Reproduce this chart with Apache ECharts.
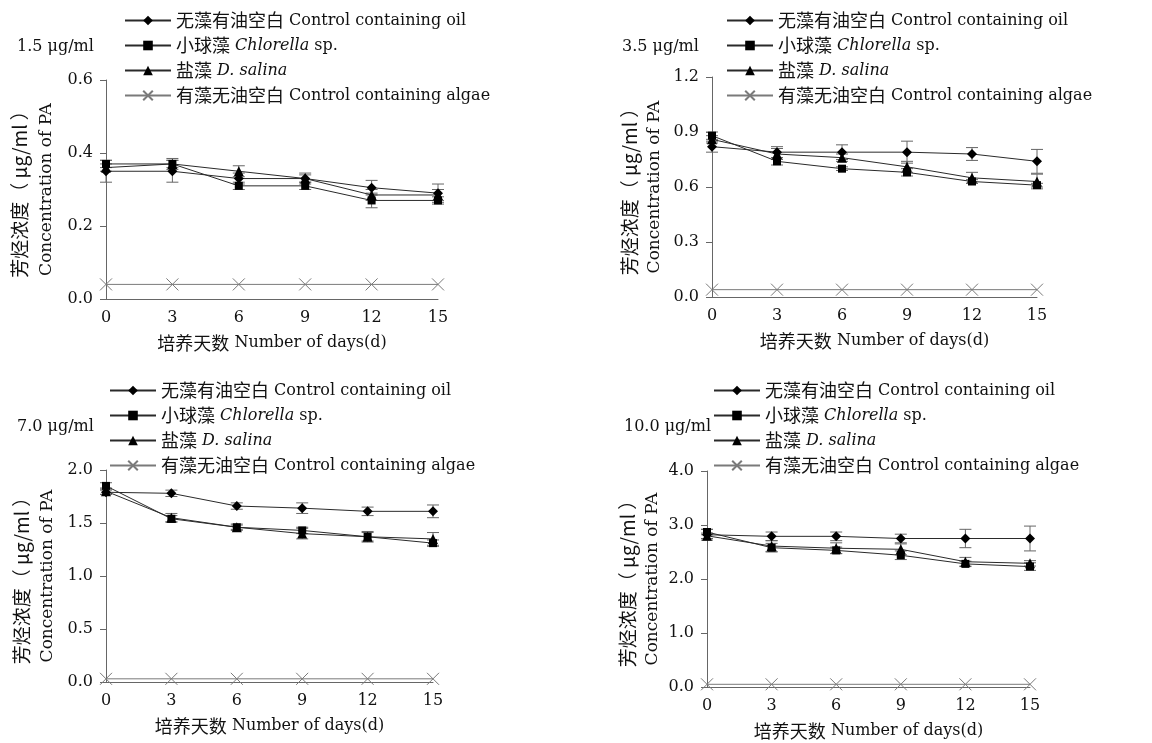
<!DOCTYPE html>
<html><head><meta charset="utf-8">
<script src="https://cdn.jsdelivr.net/npm/echarts@6/dist/echarts.min.js"></script>
<style>html,body{margin:0;padding:0;background:#fff}#c{width:1152px;height:743px}</style>
</head><body><div id="c"></div>
<script>
const days = [0, 3, 6, 9, 12, 15];
const seriesNames = ['无藻有油空白 Control containing oil', '小球藻 Chlorella sp.', '盐藻 D. salina', '有藻无油空白 Control containing algae'];
const panelTitles = ['1.5 μg/ml', '3.5 μg/ml', '7.0 μg/ml', '10.0 μg/ml'];
const yMax = [0.6, 1.2, 2.0, 4.0];
const yInterval = [0.2, 0.3, 0.5, 1.0];

// Panel 1: 1.5 μg/ml
const p1Oil = [0.35, 0.35, 0.33, 0.33, 0.305, 0.29];
const p1Chl = [0.37, 0.37, 0.31, 0.31, 0.27, 0.27];
const p1Sal = [0.36, 0.37, 0.35, 0.33, 0.285, 0.285];
const p1Alg = [0.04, 0.04, 0.04, 0.04, 0.04, 0.04];
const p1OilErr = [0.03, 0.03, 0.015, 0.01, 0.02, 0.025];
const p1ChlErr = [0.01, 0.01, 0.01, 0.01, 0.02, 0.01];
const p1SalErr = [0.01, 0.015, 0.015, 0.015, 0.015, 0.015];

// Panel 2: 3.5 μg/ml
const p2Oil = [0.82, 0.79, 0.79, 0.79, 0.78, 0.74];
const p2Chl = [0.88, 0.74, 0.70, 0.68, 0.63, 0.61];
const p2Sal = [0.86, 0.78, 0.76, 0.71, 0.65, 0.63];
const p2Alg = [0.04, 0.04, 0.04, 0.04, 0.04, 0.04];
const p2OilErr = [0.03, 0.03, 0.04, 0.06, 0.035, 0.065];
const p2ChlErr = [0.02, 0.02, 0.01, 0.02, 0.01, 0.01];
const p2SalErr = [0.02, 0.03, 0.02, 0.03, 0.03, 0.04];

// Panel 3: 7.0 μg/ml
const p3Oil = [1.79, 1.78, 1.66, 1.64, 1.61, 1.61];
const p3Chl = [1.85, 1.54, 1.46, 1.43, 1.37, 1.31];
const p3Sal = [1.80, 1.55, 1.46, 1.40, 1.37, 1.35];
const p3Alg = [0.03, 0.03, 0.03, 0.03, 0.03, 0.03];
const p3OilErr = [0.02, 0.03, 0.03, 0.05, 0.04, 0.06];
const p3ChlErr = [0.03, 0.03, 0.03, 0.03, 0.05, 0.03];
const p3SalErr = [0.03, 0.04, 0.02, 0.05, 0.04, 0.06];

// Panel 4: 10.0 μg/ml
const p4Oil = [2.82, 2.79, 2.79, 2.75, 2.75, 2.75];
const p4Chl = [2.87, 2.58, 2.53, 2.44, 2.28, 2.23];
const p4Sal = [2.80, 2.61, 2.57, 2.55, 2.32, 2.29];
const p4Alg = [0.05, 0.05, 0.05, 0.05, 0.05, 0.05];
const p4OilErr = [0.1, 0.08, 0.08, 0.08, 0.17, 0.23];
const p4ChlErr = [0.05, 0.08, 0.06, 0.08, 0.05, 0.07];
const p4SalErr = [0.05, 0.1, 0.1, 0.1, 0.08, 0.05];

const panels = [
  {oil: p1Oil, chl: p1Chl, sal: p1Sal, alg: p1Alg, oe: p1OilErr, ce: p1ChlErr, se: p1SalErr},
  {oil: p2Oil, chl: p2Chl, sal: p2Sal, alg: p2Alg, oe: p2OilErr, ce: p2ChlErr, se: p2SalErr},
  {oil: p3Oil, chl: p3Chl, sal: p3Sal, alg: p3Alg, oe: p3OilErr, ce: p3ChlErr, se: p3SalErr},
  {oil: p4Oil, chl: p4Chl, sal: p4Sal, alg: p4Alg, oe: p4OilErr, ce: p4ChlErr, se: p4SalErr}
];

const grids = [
  {left: 106, top: 80, width: 332, height: 219},
  {left: 712, top: 77, width: 325, height: 220},
  {left: 106, top: 470, width: 327, height: 212},
  {left: 707, top: 471, width: 323, height: 216}
];
const legendPos = [
  {left: 124, top: 11}, {left: 726, top: 11}, {left: 109, top: 381}, {left: 713, top: 381}
];
const titlePos = [
  {left: 12, top: 34}, {left: 617, top: 34}, {left: 12, top: 414}, {left: 619, top: 414}
];
const yNameX = [[20, 47], [630, 655], [22, 48], [628, 653]];

const FONT = '"DejaVu Serif", "Noto Sans CJK SC", serif';
const CJK = '"Noto Sans CJK SC", sans-serif';
const FS = 16;
const CJKFS = 18;
const LINE = '#2a2a2a';
const GRAY = '#7a7a7a';

const rich = {
  n: {fontFamily: FONT, fontSize: FS, color: '#111'},
  c: {fontFamily: CJK, fontSize: CJKFS, color: '#111'},
  i: {fontFamily: FONT, fontSize: FS, color: '#111', fontStyle: 'italic'}
};
function richText(s) {
  return s.replace(/([\u4e00-\u9fff\uff08\uff09]+)/g, '{c|$1}')
          .split(/(\{c\|[^}]*\})/).filter(x => x.length)
          .map(x => x.startsWith('{c|') ? x : '{n|' + x + '}').join('');
}

const option = {
  animation: false,
  backgroundColor: '#fff',
  title: [], grid: [], xAxis: [], yAxis: [], legend: [], series: [], graphic: []
};

function errSeries(gi, vals, errs) {
  return {
    type: 'custom', xAxisIndex: gi, yAxisIndex: gi, silent: true, z: 1,
    data: days.map((d, i) => [d, vals[i] - errs[i], vals[i] + errs[i]]),
    renderItem: function (params, api) {
      const lo = api.coord([api.value(0), api.value(1)]);
      const hi = api.coord([api.value(0), api.value(2)]);
      const hw = 6;
      const st = {stroke: '#666', lineWidth: 1};
      return {type: 'group', children: [
        {type: 'line', shape: {x1: lo[0], y1: lo[1], x2: hi[0], y2: hi[1]}, style: st},
        {type: 'line', shape: {x1: lo[0] - hw, y1: lo[1], x2: lo[0] + hw, y2: lo[1]}, style: st},
        {type: 'line', shape: {x1: hi[0] - hw, y1: hi[1], x2: hi[0] + hw, y2: hi[1]}, style: st}
      ]};
    }
  };
}

panels.forEach((p, gi) => {
  const g = grids[gi];
  option.grid.push({left: g.left, top: g.top, width: g.width, height: g.height, containLabel: false});
  option.title.push({text: panelTitles[gi], left: titlePos[gi].left, top: titlePos[gi].top,
    textStyle: {fontFamily: FONT, fontSize: FS, fontWeight: 'normal', color: '#111'}});
  option.xAxis.push({
    type: 'value', gridIndex: gi, min: 0, max: 15, interval: 3,
    name: richText('培养天数 Number of days(d)'), nameLocation: 'middle', nameGap: 35,
    nameTextStyle: {fontFamily: FONT, fontSize: FS, color: '#111', rich: rich},
    axisLine: {show: true, lineStyle: {color: '#666', width: 1}},
    axisTick: {show: false},
    axisLabel: {fontFamily: FONT, fontSize: FS, color: '#111', margin: 11},
    splitLine: {show: false}
  });
  option.yAxis.push({
    type: 'value', gridIndex: gi, min: 0, max: yMax[gi], interval: yInterval[gi],
    axisLine: {show: true, lineStyle: {color: '#666', width: 1}},
    axisTick: {show: true, inside: false, length: 6, lineStyle: {color: '#666'}},
    axisLabel: {fontFamily: FONT, fontSize: FS, color: '#111', margin: 13,
      formatter: v => v.toFixed(1)},
    splitLine: {show: false}
  });
  option.legend.push({
    orient: 'vertical', left: legendPos[gi].left, top: legendPos[gi].top,
    itemWidth: 46, itemHeight: 12, itemGap: 6, padding: 0,
    data: seriesNames,
    textStyle: {fontFamily: FONT, fontSize: FS, color: '#111', lineHeight: 19, rich: rich},
    formatter: function (name) {
      if (name.indexOf('Chlorella') >= 0) return '{c|小球藻} {i|Chlorella}{n| sp.}';
      if (name.indexOf('salina') >= 0) return '{c|盐藻} {i|D. salina}';
      return richText(name);
    }
  });
  option.series.push(errSeries(gi, p.oil, p.oe));
  option.series.push(errSeries(gi, p.chl, p.ce));
  option.series.push(errSeries(gi, p.sal, p.se));
  const mk = (name, vals, symbol, size, extra) => Object.assign({
    name: name, type: 'line', xAxisIndex: gi, yAxisIndex: gi, z: 3,
    data: days.map((d, i) => [d, vals[i]]),
    symbol: symbol, symbolSize: size, showSymbol: true,
    lineStyle: {color: LINE, width: 1},
    itemStyle: {color: '#000'}
  }, extra || {});
  option.series.push(mk(seriesNames[0], p.oil, 'diamond', 10));
  option.series.push(mk(seriesNames[1], p.chl, 'rect', 8));
  option.series.push(mk(seriesNames[2], p.sal, 'triangle', 10));
  option.series.push(mk(seriesNames[3], p.alg, 'path://M0,0L10,10M10,0L0,10', 12, {
    lineStyle: {color: GRAY, width: 1},
    itemStyle: {color: 'none', borderColor: GRAY, borderWidth: 1}
  }));
  const cy = g.top + g.height / 2;
  option.graphic.push({type: 'text', x: yNameX[gi][0], y: cy, rotation: Math.PI / 2,
    style: {text: '芳烃浓度（ μg/ml ）', fontFamily: CJK, fontSize: 19, fill: '#111', align: 'center', verticalAlign: 'middle'}});
  option.graphic.push({type: 'text', x: yNameX[gi][1], y: cy, rotation: Math.PI / 2,
    style: {text: 'Concentration of PA', fontFamily: FONT, fontSize: 17, fill: '#111', align: 'center', verticalAlign: 'middle'}});
});

const chart = echarts.init(document.getElementById('c'), null, {renderer: 'canvas'});
chart.setOption(option);
</script>
</body></html>
